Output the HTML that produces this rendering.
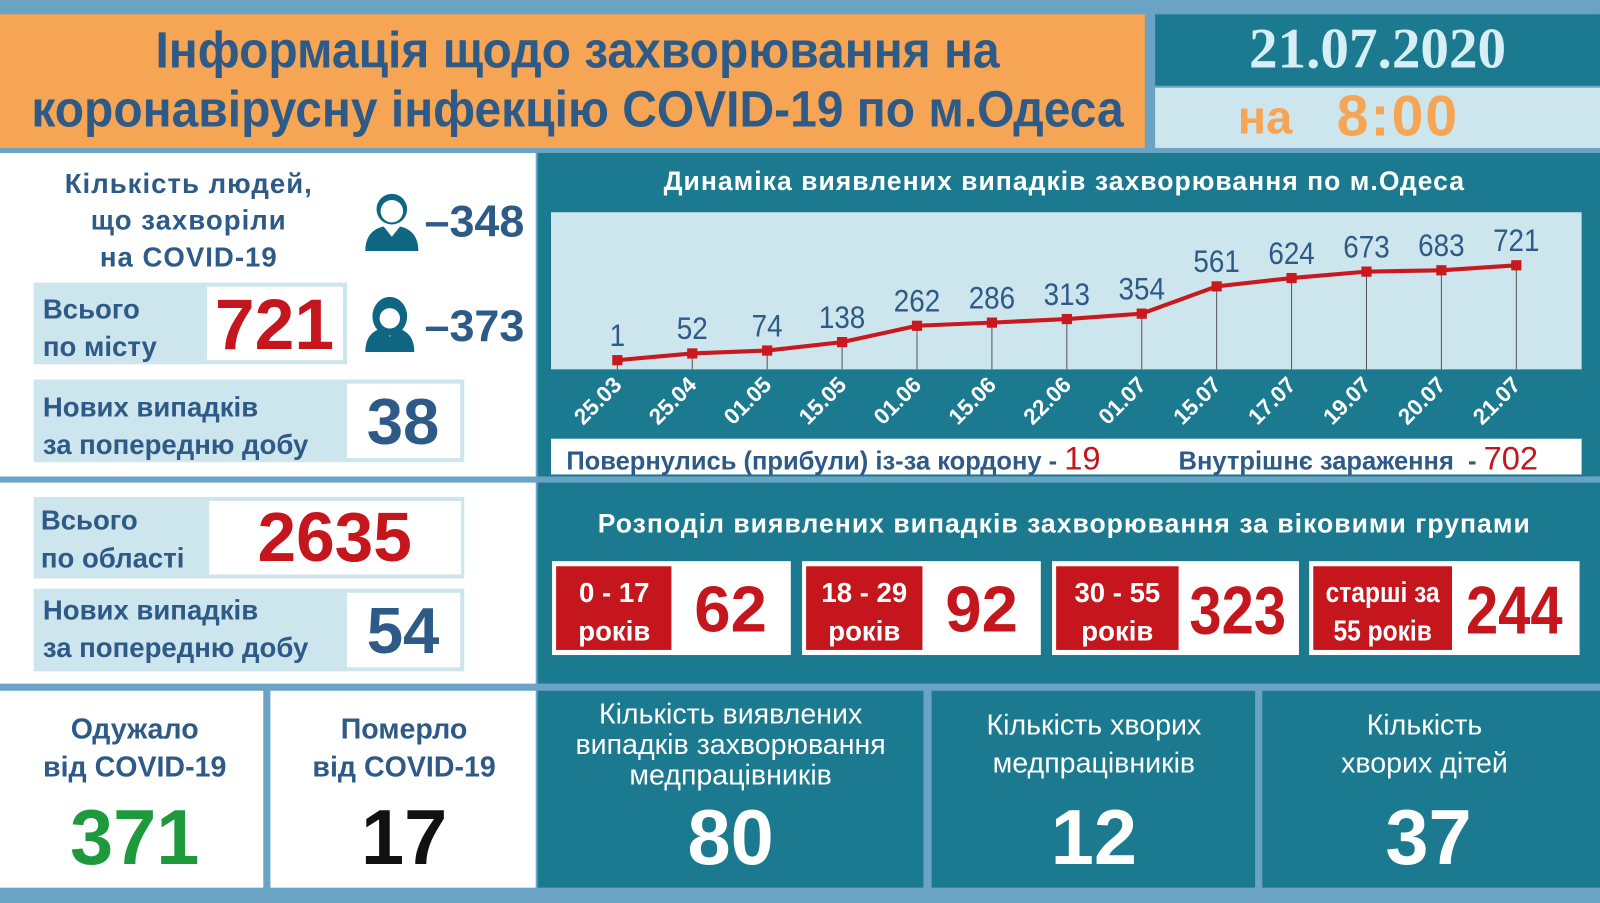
<!DOCTYPE html>
<html><head><meta charset="utf-8">
<style>
html,body{margin:0;padding:0;background:#6aa3c3;overflow:hidden;}
#stage{position:absolute;left:0;top:0;width:1568px;height:885px;transform:scale(1.0204,1.0203);transform-origin:0 0;background:#6aa3c3;font-family:"Liberation Sans","DejaVu Sans",sans-serif;}
.b{position:absolute;}
.t{position:absolute;white-space:nowrap;font-weight:bold;line-height:1;}
.c{transform:translateX(-50%);text-align:center;}
.cn{transform:translateX(-50%) scaleX(0.86);text-align:center;}
.blue{color:#2e5a87;}
.red{color:#c4161c;}
.teal{background:#1b7a8f;}
.lb{background:#cde5ec;}
.w{background:#fff;}
</style></head><body>
<div id="stage">
  <!-- header -->
  <div class="b" style="left:0;top:14px;width:1122px;height:131px;background:#f5a553"></div>
  <div class="t blue" style="left:566px;top:24px;font-size:50px;transform:translateX(-50%) scaleX(0.94)">Інформація щодо захворювання на</div>
  <div class="t blue" style="left:566px;top:82px;font-size:50px;transform:translateX(-50%) scaleX(0.94)">коронавірусну інфекцію COVID-19 по м.Одеса</div>
  <div class="b teal" style="left:1132px;top:14px;width:436px;height:70px"></div>
  <div class="t c" style="left:1350px;top:20px;font-size:56px;color:#d6eef5;font-family:'Liberation Serif',serif">21.07.2020</div>
  <div class="b lb" style="left:1132px;top:86px;width:436px;height:59px"></div>
  <div class="t" style="left:1213px;top:92px;font-size:46px;color:#f5a553">на</div>
  <div class="t" style="left:1310px;top:86px;font-size:56px;color:#f5a553;letter-spacing:2px">8:00</div>

  <!-- row 1 -->
  <div class="b w" style="left:0;top:150px;width:525px;height:317px"></div>
  <div class="t c blue" style="left:185px;top:162px;font-size:27px;line-height:36px;letter-spacing:1px">Кількість людей,<br>що захворіли<br>на COVID-19</div>
  <svg class="b" style="left:356px;top:188px" width="56" height="60" viewBox="0 0 56 60"><circle cx="28" cy="17" r="15" fill="#0e6683"/><circle cx="28" cy="19" r="11" fill="#fff"/><path d="M2 58 Q2 38 20 34 L28 44 L36 34 Q54 38 54 58 Z" fill="#0e6683"/></svg>
  <div class="t blue" style="left:416px;top:196px;font-size:44px">–348</div>
  <svg class="b" style="left:356px;top:290px" width="52" height="56" viewBox="0 0 52 56"><ellipse cx="26" cy="20" rx="17" ry="19" fill="#0e6683"/><circle cx="26" cy="22" r="10" fill="#fff"/><path d="M2 55 Q2 36 18 32 L26 40 L34 32 Q50 36 50 55 Z" fill="#0e6683"/></svg>
  <div class="t blue" style="left:416px;top:298px;font-size:44px">–373</div>

  <div class="b lb" style="left:33px;top:277px;width:307px;height:80px"></div>
  <div class="t blue" style="left:42px;top:285px;font-size:27px;line-height:37px">Всього<br>по місту</div>
  <div class="b w" style="left:203px;top:281px;width:133px;height:72px"></div>
  <div class="t c red" style="left:269px;top:283px;font-size:70px">721</div>

  <div class="b lb" style="left:33px;top:372px;width:422px;height:81px"></div>
  <div class="t blue" style="left:42px;top:381px;font-size:27px;line-height:37px">Нових випадків<br>за попередню добу</div>
  <div class="b w" style="left:340px;top:376px;width:111px;height:73px"></div>
  <div class="t c blue" style="left:395px;top:381px;font-size:64px">38</div>

  <div class="b teal" style="left:527px;top:150px;width:1041px;height:317px"></div>
  <div class="t c" style="left:1043px;top:164px;font-size:26px;color:#fff;letter-spacing:1px">Динаміка виявлених випадків захворювання по м.Одеса</div>
  <svg id="chart" class="b" style="left:0;top:0" width="1568" height="885"></svg>
  <div class="b w" style="left:540px;top:430px;width:1010px;height:35px"></div>
  <div class="t blue" style="left:555px;top:433px;font-size:25px">Повернулись (прибули) із-за кордону - <span class="red" style="font-size:32px;font-weight:normal">19</span></div>
  <div class="t blue" style="left:1155px;top:433px;font-size:25px">Внутрішнє зараження&nbsp; - <span class="red" style="font-size:32px;font-weight:normal">702</span></div>

  <!-- row 2 -->
  <div class="b w" style="left:0;top:473px;width:525px;height:197px"></div>
  <div class="b lb" style="left:33px;top:487px;width:422px;height:80px"></div>
  <div class="t blue" style="left:40px;top:492px;font-size:27px;line-height:37px">Всього<br>по області</div>
  <div class="b w" style="left:205px;top:491px;width:247px;height:72px"></div>
  <div class="t c red" style="left:328px;top:493px;font-size:68px">2635</div>
  <div class="b lb" style="left:33px;top:577px;width:422px;height:81px"></div>
  <div class="t blue" style="left:42px;top:580px;font-size:27px;line-height:37px">Нових випадків<br>за попередню добу</div>
  <div class="b w" style="left:340px;top:581px;width:111px;height:73px"></div>
  <div class="t c blue" style="left:395px;top:586px;font-size:64px">54</div>

  <div class="b teal" style="left:527px;top:473px;width:1041px;height:197px"></div>
  <div class="t c" style="left:1043px;top:500px;font-size:26px;color:#fff;letter-spacing:1px">Розподіл виявлених випадків захворювання за віковими групами</div>

  <div class="b w" style="left:541px;top:550px;width:234px;height:92px"></div>
  <div class="b" style="left:545px;top:555px;width:113px;height:82px;background:#c4161c"></div>
  <div class="t c" style="left:602px;top:562px;font-size:27px;line-height:38px;color:#fff">0 - 17<br>років</div>
  <div class="t c red" style="left:716px;top:565px;font-size:64px">62</div>

  <div class="b w" style="left:786px;top:550px;width:234px;height:92px"></div>
  <div class="b" style="left:790px;top:555px;width:114px;height:82px;background:#c4161c"></div>
  <div class="t c" style="left:847px;top:562px;font-size:27px;line-height:38px;color:#fff">18 - 29<br>років</div>
  <div class="t c red" style="left:962px;top:565px;font-size:64px">92</div>

  <div class="b w" style="left:1031px;top:550px;width:242px;height:92px"></div>
  <div class="b" style="left:1035px;top:555px;width:120px;height:82px;background:#c4161c"></div>
  <div class="t c" style="left:1095px;top:562px;font-size:27px;line-height:38px;color:#fff">30 - 55<br>років</div>
  <div class="t cn red" style="left:1213px;top:565px;font-size:66px">323</div>

  <div class="b w" style="left:1283px;top:550px;width:265px;height:92px"></div>
  <div class="b" style="left:1287px;top:555px;width:136px;height:82px;background:#c4161c"></div>
  <div class="t cn" style="left:1355px;top:562px;font-size:28px;line-height:38px;color:#fff">старші за<br>55 років</div>
  <div class="t cn red" style="left:1484px;top:565px;font-size:66px">244</div>

  <!-- row 3 -->
  <div class="b w" style="left:0;top:677px;width:258px;height:193px"></div>
  <div class="t c blue" style="left:132px;top:696px;font-size:28px;line-height:37px">Одужало<br>від COVID-19</div>
  <div class="t c" style="left:132px;top:784px;font-size:76px;color:#1e9a3c">371</div>
  <div class="b w" style="left:265px;top:677px;width:260px;height:193px"></div>
  <div class="t c blue" style="left:396px;top:696px;font-size:28px;line-height:37px">Померло<br>від COVID-19</div>
  <div class="t c" style="left:396px;top:784px;font-size:76px;color:#111">17</div>

  <div class="b teal" style="left:527px;top:677px;width:378px;height:193px"></div>
  <div class="t c" style="left:716px;top:685px;font-size:28px;line-height:30px;color:#fff;font-weight:normal">Кількість виявлених<br>випадків захворювання<br>медпрацівників</div>
  <div class="t c" style="left:716px;top:784px;font-size:76px;color:#fff">80</div>
  <div class="b teal" style="left:913px;top:677px;width:317px;height:193px"></div>
  <div class="t c" style="left:1072px;top:692px;font-size:28px;line-height:37px;color:#fff;font-weight:normal">Кількість хворих<br>медпрацівників</div>
  <div class="t c" style="left:1072px;top:784px;font-size:76px;color:#fff">12</div>
  <div class="b teal" style="left:1237px;top:677px;width:331px;height:193px"></div>
  <div class="t c" style="left:1396px;top:692px;font-size:28px;line-height:37px;color:#fff;font-weight:normal">Кількість<br>хворих дітей</div>
  <div class="t c" style="left:1400px;top:784px;font-size:76px;color:#fff">37</div>
</div>
<script>
const dates = ["25.03","25.04","01.05","15.05","01.06","15.06","22.06","01.07","15.07","17.07","19.07","20.07","21.07"];
const cases = [1,52,74,138,262,286,313,354,561,624,673,683,721];

const NS="http://www.w3.org/2000/svg";
const svg=document.getElementById('chart');
const plot={x0:540,x1:1550,y0:208,y1:362};
const xFirst=605,xLast=1486;
function xScale(i){return xFirst+(xLast-xFirst)*i/(dates.length-1);}
function yScale(v){return 353-(v-1)*(93/720);}
function mk(tag,attrs){const e=document.createElementNS(NS,tag);for(const k in attrs)e.setAttribute(k,attrs[k]);svg.appendChild(e);return e;}
let r=mk('rect',{x:plot.x0,y:plot.y0,width:plot.x1-plot.x0,height:plot.y1-plot.y0,fill:'#cde5ec'});


cases.forEach((v,i)=>{
  const l=mk('line',{x1:xScale(i),x2:xScale(i),y1:yScale(v),y2:plot.y1,stroke:'#555','stroke-width':1});
  
  
});
const pts=cases.map((v,i)=>xScale(i)+','+yScale(v)).join(' ');
const pl=mk('polyline',{points:pts,fill:'none',stroke:'#c9191f','stroke-width':4});


cases.forEach((v,i)=>{
  const m=mk('rect',{x:xScale(i)-5,y:yScale(v)-5,width:10,height:10,fill:'#c9191f'});
  
  
  const t=mk('text',{x:xScale(i),y:yScale(v)-14,'text-anchor':'middle','font-size':31,'font-family':'Liberation Sans, sans-serif',fill:'#2e5a87',transform:'translate('+xScale(i)+',0) scale(0.88,1) translate('+(-xScale(i))+',0)'});
  t.textContent=v;
  
  
  const d=mk('text',{x:0,y:0,'text-anchor':'middle','font-size':22,'font-weight':'bold','font-family':'Liberation Sans, sans-serif',fill:'#fff',transform:'translate('+(xScale(i)-14)+',398) rotate(-45)'});
  d.textContent=dates[i];
  
  
});
</script>
</body></html>
